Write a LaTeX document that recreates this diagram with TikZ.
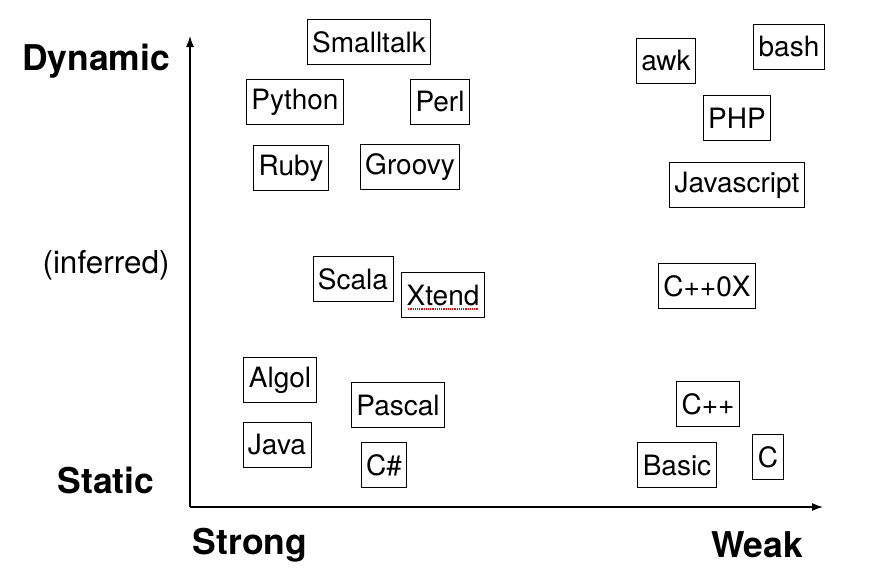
\documentclass[tikz,border=0pt]{standalone}
\usepackage{fontspec}
\setmainfont{TeX Gyre Heros}
\usetikzlibrary{arrows.meta, positioning, calc}

\tikzset{
  langbox/.style={draw, line width=0.8pt, inner xsep=5pt, inner ysep=0pt, minimum height=45pt, font=\fontsize{28}{30}\selectfont},
  axislabel/.style={font=\fontsize{35.5}{37}\selectfont\bfseries},
}

\begin{document}
\begin{tikzpicture}[x=1pt, y=-1pt]
  \useasboundingbox[fill=white] (0,0) rectangle (879,568);

  \coordinate (origin) at (190,507);
  \coordinate (ytop) at (190,36);
  \coordinate (xend) at (823,507);
  \draw[line width=1.2pt, -{Latex[length=11pt,width=8pt]}] (origin) -- (ytop);
  \draw[line width=1.2pt, -{Latex[length=11pt,width=8pt]}] (origin) -- (xend);

  \node[axislabel] (dynamic) at (96,61) {Dynamic};
  \node[font=\fontsize{31.5}{33}\selectfont] (inferred) at (106,265) {(inferred)};
  \node[axislabel] (static) at (106,480) {Static};
  \node[axislabel] (strong) at (250,545) {Strong};
  \node[axislabel] (weak) at (757,545) {Weak};

  \node[langbox] (smalltalk) at (369,42) {Smalltalk};
  \node[langbox] (python) at (295,102) {Python};
  \node[langbox] (perl) at (440,102) {Perl};
  \node[langbox] (ruby) at (291,168) {Ruby};
  \node[langbox] (groovy) at (410,167) {Groovy};
  \node[langbox] (awk) at (666,61) {awk};
  \node[langbox] (bash) at (789,47) {bash};
  \node[langbox] (php) at (737,118) {PHP};
  \node[langbox] (javascript) at (737,185) {Javascript};
  \node[langbox] (scala) at (353,279) {Scala};
  \node[langbox] (xtend) at (443,295) {Xtend};
  \node[langbox] (cppox) at (707,286) {C++0X};
  \node[langbox] (algol) at (280,380) {Algol};
  \node[langbox] (pascal) at (398,405) {Pascal};
  \node[langbox] (java) at (277,445) {Java};
  \node[langbox] (csharp) at (384,465) {C\#};
  \node[langbox] (cpp) at (708,404) {C++};
  \node[langbox] (basic) at (677,465) {Basic};
  \node[langbox] (c) at (768,457) {C};

  \draw[red, densely dotted, line width=1.2pt] ($(xtend.base west)+(7,4)$) -- ($(xtend.base east)+(-7,4)$);
\end{tikzpicture}
\end{document}
